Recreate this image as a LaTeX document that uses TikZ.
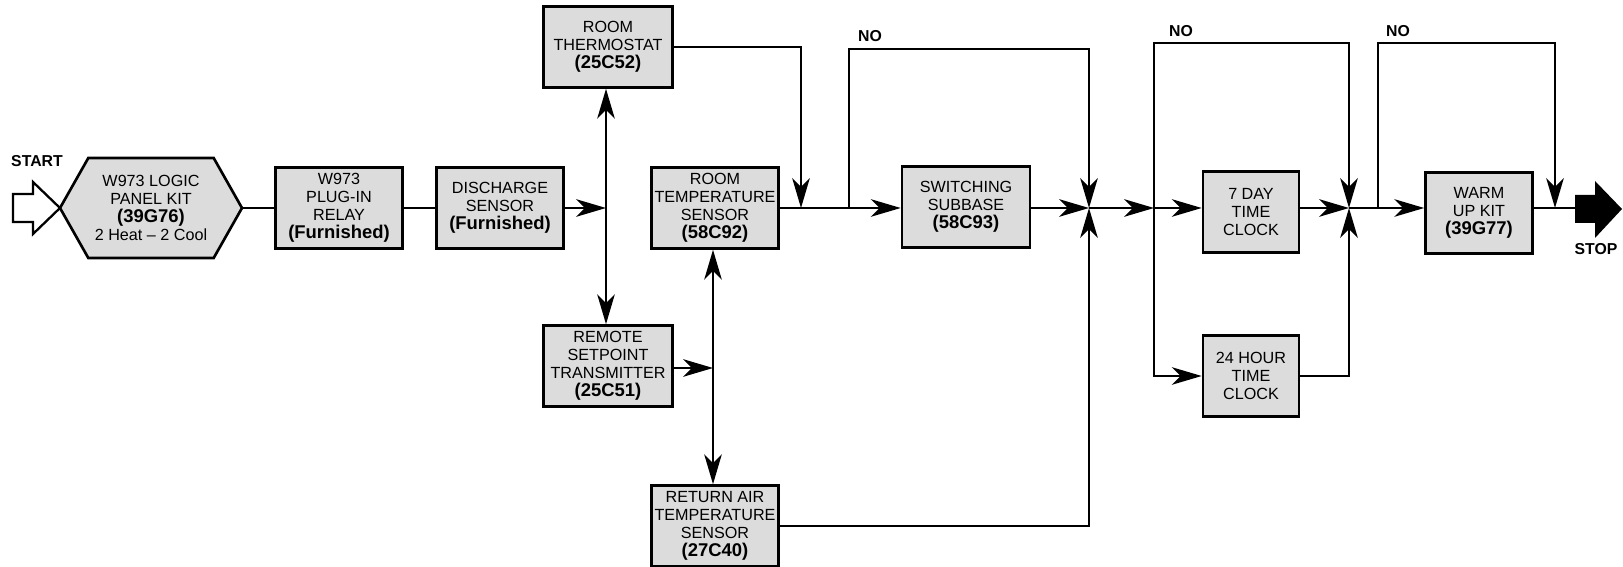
\documentclass[tikz,border=0pt]{standalone}
\usepackage{fontspec}
\setmainfont{Liberation Sans}
\usepackage{xcolor}
\usepackage{tikz}
\usetikzlibrary{shapes, shapes.symbols, arrows.meta, positioning, calc}

\definecolor{boxgray}{RGB}{220,220,220}
\newcommand{\partno}[1]{{\fontsize{10.5}{10.4}\selectfont\bfseries #1}}

\tikzset{
  block/.style={draw, fill=boxgray, line width=1.5pt, inner sep=0pt, align=center,
    minimum width=2.54cm, minimum height=1.62cm, font=\fontsize{9.2}{10.3}\selectfont},
  wire/.style={line width=1.4pt},
  conn/.style={line width=1.4pt, -{Stealth[length=17pt, width=10pt, inset=5pt]}},
  lbl/.style={font=\fontsize{9}{10}\selectfont\bfseries, inner sep=0pt}
}

\begin{document}
\begin{tikzpicture}[x=0.02cm, y=-0.02cm]
\useasboundingbox (0,0) rectangle (1623,567);

% Blocks
\node[block, signal, signal to=west and east, signal pointer angle=121,
      minimum width=3.64cm, minimum height=2cm] (panel) at (151,208)
      {W973 LOGIC\\PANEL KIT\\\partno{(39G76)}\\2 Heat -- 2 Cool};
\node[block] (relay) at (339,208) {W973\\PLUG-IN\\RELAY\\\partno{(Furnished)}};
\node[block] (discharge) at (500,208) {DISCHARGE\\SENSOR\\\partno{(Furnished)}};
\node[block, minimum width=2.58cm] (thermo) at (608,47) {ROOM\\THERMOSTAT\\\partno{(25C52)}};
\node[block, minimum width=2.58cm] (remote) at (608,366) {REMOTE\\SETPOINT\\TRANSMITTER\\\partno{(25C51)}};
\node[block] (roomtemp) at (715,208) {ROOM\\TEMPERATURE\\SENSOR\\\partno{(58C92)}};
\node[block] (retair) at (715,526) {RETURN AIR\\TEMPERATURE\\SENSOR\\\partno{(27C40)}};
\node[block, minimum width=2.56cm] (subbase) at (966,207) {SWITCHING\\SUBBASE\\\partno{(58C93)}};
\node[block, minimum width=1.92cm] (seven) at (1251,212) {7 DAY\\TIME\\CLOCK};
\node[block, minimum width=1.92cm] (hour) at (1251,376) {24 HOUR\\TIME\\CLOCK};
\node[block, minimum width=2.14cm] (warmup) at (1479,213) {WARM\\UP KIT\\\partno{(39G77)}};

% Start and stop
\draw[line width=1.3pt, fill=white] (13,194) -- (33,194) -- (33,182) -- (60,208)
  -- (33,234) -- (33,222) -- (13,222) -- cycle;
\fill (1575,195) -- (1595,195) -- (1595,181) -- (1622,209) -- (1595,238)
  -- (1595,223) -- (1575,223) -- cycle;
\coordinate (stoptail) at (1575,208);
\node[lbl] (start) at (37,161) {START};
\node[lbl] (stop) at (1596,249) {STOP};

% Junctions
\coordinate (jdis) at (606,208);
\coordinate (jrem) at (713,368);
\coordinate (jthm) at (801,208);
\coordinate (jno1) at (849,208);
\coordinate (jsum1) at (1089,208);
\coordinate (jsplit) at (1154,208);
\coordinate (jsum2) at (1349,208);
\coordinate (jno3) at (1378,208);
\coordinate (jwarm) at (1555,208);
\coordinate (tno1) at (1089,49);
\coordinate (tno2) at (1349,43);
\coordinate (tno3) at (1555,43);

% Main chain
\draw[wire] (panel.east) -- (relay.west);
\draw[wire] (relay.east) -- (discharge.west);
\draw[conn] (discharge.east) -- (jdis);
\draw[conn] (jdis) -- (jdis |- thermo.south);
\draw[conn] (jdis) -- (jdis |- remote.north);
\draw[conn] (remote.east |- jrem) -- (jrem);
\draw[conn] (jrem) -- (jrem |- roomtemp.south);
\draw[conn] (jrem) -- (jrem |- retair.north);
\draw[conn] (thermo.east) -| (jthm);
\draw[conn] (roomtemp.east) -- (subbase.west |- roomtemp.east);
\draw[conn] (subbase.east |- jsum1) -- (jsum1);
\draw[conn] (retair.east) -| (jsum1);
\draw[conn] (jsum1) -- (jsplit);
\draw[conn] (jsplit) -- (jsplit -| seven.west);
\draw[conn] (jsplit) |- (hour.west);
\draw[conn] (seven.east |- jsum2) -- (jsum2);
\draw[conn] (hour.east) -| (jsum2);
\draw[conn] (jsum2) -- (jsum2 -| warmup.west);
\draw[wire] (warmup.east |- jsum2) -- (stoptail);

% NO loops
\draw[conn] (jno1) |- (tno1) -- (jsum1);
\draw[conn] (jsplit) |- (tno2) -- (jsum2);
\draw[conn] (jno3) |- (tno3) -- (jwarm);
\node[lbl] (no1) at (870,36) {NO};
\node[lbl] (no2) at (1181,31) {NO};
\node[lbl] (no3) at (1398,31) {NO};
\end{tikzpicture}
\end{document}
